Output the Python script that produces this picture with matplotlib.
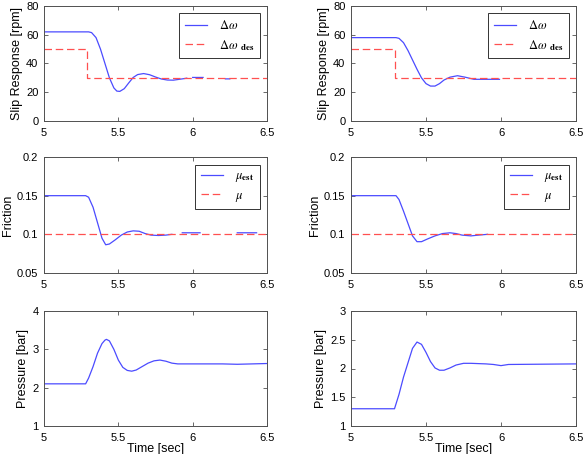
import numpy as np
import matplotlib
matplotlib.use("Agg")
import matplotlib.pyplot as plt

plt.rcParams['font.family'] = ['Liberation Sans', 'DejaVu Sans']
plt.rcParams['mathtext.fontset'] = 'stix'

nan = np.nan
# ---------- data ----------
# top-left : slip response
t_slip_L = [5.0, 5.30, 5.32, 5.35, 5.38, 5.41, 5.44, 5.47, 5.49, 5.51, 5.54, 5.57, 5.60,
            5.63, 5.67, 5.71, 5.75, 5.79, 5.83, 5.87, 5.91, 5.95, 5.96, 5.98,
            6.00, 6.07, 6.08, 6.22, 6.25]
w_slip_L = [62, 62, 61.5, 58, 50, 40, 30, 23, 20.8, 20.6, 22.5, 26.5, 30.3,
            32.3, 33.0, 32.2, 30.6, 29.2, 28.5, 28.4, 29.0, 29.6, 29.8, nan,
            30.3, 30.3, nan, 29.3, 29.3]
# top-right
t_slip_R = [5.0, 5.30, 5.32, 5.35, 5.38, 5.41, 5.44, 5.47, 5.50, 5.53, 5.56, 5.59, 5.62,
            5.66, 5.71, 5.76, 5.80, 5.82, 5.99]
w_slip_R = [58, 58, 57.5, 54.5, 49, 42.5, 36, 30, 26, 24.3, 24.3, 26, 28.5,
            30.5, 31.5, 30.5, 29.5, 29.0, 29.0]
t_des = [5.0, 5.29, 5.29, 6.5]
w_des = [50, 50, 30, 30]

# middle-left : friction estimate
t_mu_L = [5.0, 5.28, 5.30, 5.33, 5.36, 5.39, 5.415, 5.44, 5.48, 5.52, 5.56, 5.60, 5.64,
          5.68, 5.72, 5.77, 5.82, 5.86, 5.90, 5.93, 6.05, 6.10, 6.30, 6.43]
mu_est_L = [0.15, 0.15, 0.148, 0.135, 0.115, 0.095, 0.0865, 0.0875, 0.093, 0.099, 0.103, 0.1045, 0.104,
            0.101, 0.099, 0.0985, 0.099, 0.1, nan, 0.102, 0.102, nan, 0.102, 0.102]
# middle-right
t_mu_R = [5.0, 5.30, 5.32, 5.35, 5.38, 5.41, 5.44, 5.47, 5.51, 5.56, 5.61, 5.66, 5.70,
          5.74, 5.80, 5.85, 5.91]
mu_est_R = [0.15, 0.15, 0.145, 0.13, 0.114, 0.098, 0.0905, 0.0905, 0.094, 0.098, 0.101, 0.102, 0.101,
            0.099, 0.098, 0.099, 0.1]
t_mu = [5.0, 6.5]
mu_true = [0.1, 0.1]

# bottom : brake pressure
t_p_L = [5.0, 5.28, 5.30, 5.33, 5.36, 5.39, 5.41, 5.42, 5.44, 5.47, 5.50, 5.53, 5.56, 5.59,
         5.62, 5.66, 5.70, 5.74, 5.78, 5.82, 5.86, 5.90, 6.0, 6.2, 6.3, 6.5]
p_L = [2.1, 2.1, 2.25, 2.55, 2.9, 3.15, 3.24, 3.26, 3.22, 3.0, 2.72, 2.53, 2.45, 2.43,
       2.46, 2.55, 2.64, 2.70, 2.72, 2.69, 2.64, 2.62, 2.62, 2.62, 2.61, 2.63]
t_p_R = [5.0, 5.29, 5.32, 5.35, 5.38, 5.41, 5.44, 5.47, 5.50, 5.53, 5.56, 5.59, 5.62,
         5.66, 5.70, 5.75, 5.80, 5.90, 5.95, 6.0, 6.05, 6.5]
p_R = [1.3, 1.3, 1.55, 1.85, 2.1, 2.35, 2.46, 2.42, 2.28, 2.12, 2.01, 1.97, 1.97,
       2.01, 2.06, 2.09, 2.09, 2.08, 2.07, 2.05, 2.07, 2.08]

x_ticks = [5, 5.5, 6, 6.5]
x_ticklabels = ['5', '5.5', '6', '6.5']
slip_ticks = [0, 20, 40, 60, 80]
mu_ticks = [0.05, 0.1, 0.15, 0.2]
pL_ticks = [1, 2, 3, 4]
pR_ticks = [1, 1.5, 2, 2.5, 3]

BLUE = '#4b4bff'
RED = '#ff5050'
FRAME = '#505050'

fig = plt.figure(figsize=(5.84, 4.54), dpi=100)

cols = [(44 / 584, 223 / 584), (351 / 584, 225 / 584)]
rows = [((454 - 121) / 454, 115 / 454), ((454 - 273) / 454, 116 / 454), ((454 - 426) / 454, 115 / 454)]


def style(ax, yticks, ylim, ylabel):
    ax.set_xlim(5, 6.5)
    ax.set_ylim(*ylim)
    ax.set_xticks(x_ticks)
    ax.set_xticklabels(x_ticklabels)
    ax.set_yticks(yticks)
    ax.set_yticklabels([('%g' % v) for v in yticks])
    ax.tick_params(direction='in', length=3, width=0.6, color=FRAME, labelsize=8,
                   top=True, right=True, pad=4)
    ax.tick_params(axis='x', pad=5)
    for s in ax.spines.values():
        s.set_color(FRAME)
        s.set_linewidth(0.7)
    ax.set_ylabel(ylabel, fontsize=9, labelpad=2)


def legend(ax):
    leg = ax.legend(loc='upper right', fontsize=9, frameon=True, fancybox=False,
                    edgecolor='black', handlelength=1.8, handletextpad=0.9,
                    borderpad=0.45, labelspacing=0.45, borderaxespad=0.6)
    leg.get_frame().set_linewidth(0.7)


axes = {}
for ci, (x0, w) in enumerate(cols):
    for ri, (y0, h) in enumerate(rows):
        axes[(ri, ci)] = fig.add_axes([x0, y0, w, h])

# Row 1: slip
for ci, (t, w) in enumerate([(t_slip_L, w_slip_L), (t_slip_R, w_slip_R)]):
    ax = axes[(0, ci)]
    ax.plot(t, w, color=BLUE, lw=0.9, label=r'$\Delta\omega$')
    ax.plot(t_des, w_des, color=RED, lw=0.9, ls=(0, (6, 3)), label=r'$\Delta\omega$ $_{\mathbf{des}}$')
    style(ax, slip_ticks, (0, 80), 'Slip Response [rpm]')
    legend(ax)

# Row 2: friction
for ci, (t, m) in enumerate([(t_mu_L, mu_est_L), (t_mu_R, mu_est_R)]):
    ax = axes[(1, ci)]
    ax.plot(t, m, color=BLUE, lw=0.9, label=r'$\mu_{\mathbf{est}}$')
    ax.plot(t_mu, mu_true, color=RED, lw=0.9, ls=(0, (6, 3)), label=r'$\mu$')
    style(ax, mu_ticks, (0.05, 0.2), 'Friction')
    legend(ax)

# Row 3: pressure
ax = axes[(2, 0)]
ax.plot(t_p_L, p_L, color=BLUE, lw=0.9)
style(ax, pL_ticks, (1, 4), 'Pressure [bar]')
ax.set_xlabel('Time [sec]', fontsize=9, labelpad=0)
ax = axes[(2, 1)]
ax.plot(t_p_R, p_R, color=BLUE, lw=0.9)
style(ax, pR_ticks, (1, 3), 'Pressure [bar]')
ax.set_xlabel('Time [sec]', fontsize=9, labelpad=0)

fig.savefig('out.png', dpi=100)
